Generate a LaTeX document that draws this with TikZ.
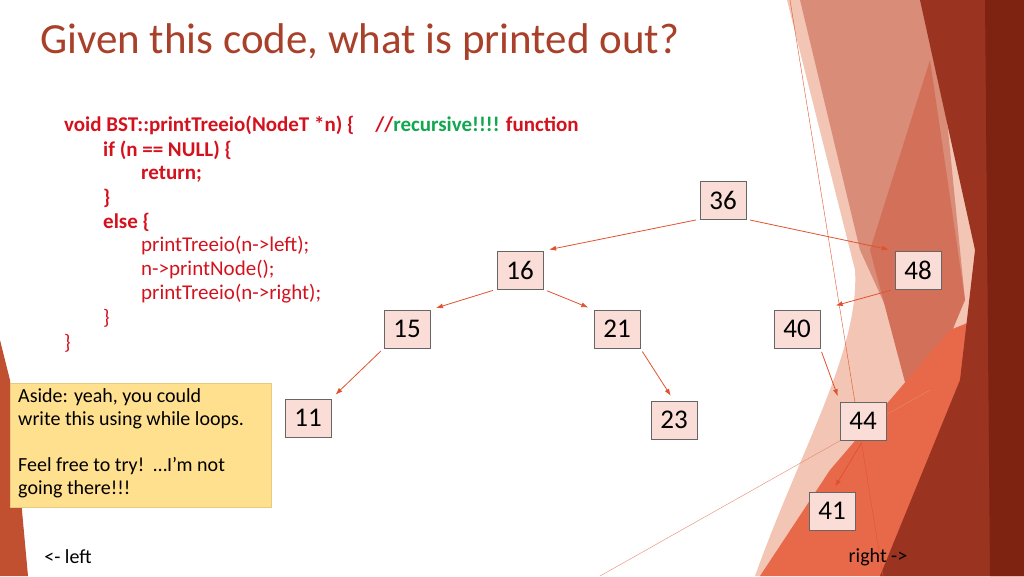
\documentclass[tikz,border=0pt]{standalone}
\usepackage{fontspec}
\setmainfont{Carlito}
\usetikzlibrary{arrows.meta}
\definecolor{titlered}{HTML}{A8402A}
\definecolor{codered}{HTML}{D4121E}
\definecolor{codegreen}{HTML}{12A650}
\definecolor{arrowred}{HTML}{E0522E}
\definecolor{boxpink}{HTML}{FADDD6}
\definecolor{asideyellow}{HTML}{FEE08E}
\definecolor{palepink}{HTML}{F3C5B5}
\definecolor{salmon}{HTML}{D98C78}
\definecolor{midred}{HTML}{D2705A}
\definecolor{orangered}{HTML}{E8694A}
\definecolor{darkred}{HTML}{9A3420}
\definecolor{deepred}{HTML}{7E2212}
\definecolor{wedgered}{HTML}{C0502F}
\tikzset{
  treenode/.style={draw=gray!80!black, fill=boxpink, minimum width=46pt, minimum height=38pt, inner sep=0pt, font=\fontsize{27}{27}\selectfont},
  treearrow/.style={-{Latex[length=7pt,width=5pt]}, draw=arrowred, thick, shorten <=4pt, shorten >=6pt},
  codeline/.style={anchor=west, inner sep=0pt, text=codered, font=\fontsize{21}{21}\selectfont\bfseries},
  plainline/.style={anchor=west, inner sep=0pt, text=codered, font=\fontsize{21}{21}\selectfont}
}
\begin{document}
\begin{tikzpicture}[x=1pt,y=-1pt]
	\useasboundingbox (0,0) rectangle (1024,576);
	%background shapes
		\fill[palepink] (787,0) -- (1024,0) -- (1024,576) -- (755,576) .. controls (800,450) and (860,350) .. (855,270) -- cycle;
		\fill[salmon] (800,0) -- (935,0) -- (965,300) -- (910,360) -- (860,250) -- cycle;
		\fill[midred] (870,250) -- (930,60) -- (965,300) -- (915,420) -- cycle;
		\fill[orangered] (760,576) -- (830,470) -- (950,330) -- (1024,300) -- (1024,576) -- cycle;
		\fill[darkred] (920,0) -- (1024,0) -- (1024,576) -- (880,576) -- (960,380) -- (975,250) -- cycle;
		\fill[deepred] (985,0) -- (1024,0) -- (1024,576) -- (990,576) -- cycle;
		\draw[arrowred, thin] (790,0) -- (883,576);
		\draw[arrowred!70, thin] (600,576) -- (930,390);
		\fill[wedgered] (0,340) -- (10,380) -- (28,576) -- (0,576) -- cycle;
	%title
		\node[anchor=west, inner sep=0pt, text=titlered, font=\fontsize{43}{43}\selectfont] (title) at (40,42) {Given this code, what is printed out?};
	%code
		\node[codeline] (c1) at (64,125) {void BST::printTreeio(NodeT *n) \{\quad //\textcolor{codegreen}{recursive!!!!} function};
		\node[codeline] (c2) at (103,150) {if (n == NULL) \{};
		\node[codeline] (c3) at (141,174) {return;};
		\node[codeline] (c4) at (103,198) {\}};
		\node[codeline] (c5) at (103,222) {else \{};
		\node[plainline] (c6) at (141,246) {printTreeio(n->left);};
		\node[plainline] (c7) at (141,270) {n->printNode();};
		\node[plainline] (c8) at (141,294) {printTreeio(n->right);};
		\node[plainline] (c9) at (103,318) {\}};
		\node[plainline] (c10) at (64,343) {\}};
	%aside
		\node[fill=asideyellow, draw=asideyellow!90!black, anchor=north west, minimum width=261pt, minimum height=124pt, inner sep=0pt] (aside) at (10,383) {};
		\node[anchor=north west, align=left, inner sep=0pt, font=\fontsize{20}{23.5}\selectfont] (asidetext) at (18,388) {Aside: yeah, you could\\write this using while loops.\\[22pt]Feel free to try!\ \ \ldots I'm not\\going there!!!};
	%tree
		\node[treenode] (n36) at (723,200) {36};
		\node[treenode] (n16) at (520,270) {16};
		\node[treenode] (n48) at (918,270) {48};
		\node[treenode] (n15) at (407,329) {15};
		\node[treenode] (n21) at (617,329) {21};
		\node[treenode] (n40) at (797,329) {40};
		\node[treenode] (n11) at (308,418) {11};
		\node[treenode] (n23) at (674,420) {23};
		\node[treenode] (n44) at (863,421) {44};
		\node[treenode] (n41) at (832,511) {41};
		\draw[treearrow] (n36.south west) -- (n16.north east);
		\draw[treearrow] (n36.south east) -- (n48.north west);
		\draw[treearrow] (n16.south west) -- (n15.north east);
		\draw[treearrow] (n16.south east) -- (n21.north west);
		\draw[treearrow] (n15.south west) -- (n11.north east);
		\draw[treearrow] (n21.south east) -- (n23.north);
		\draw[treearrow, shorten >=16pt] (n48.south west) -- (n40.north east);
		\draw[treearrow] (n40.south east) -- (n44.north west);
		\draw[treearrow] (n44.south) -- (n41.north);
	%footer
		\node[inner sep=0pt, font=\fontsize{20}{20}\selectfont] (left) at (68,557) {<- left};
		\node[inner sep=0pt, font=\fontsize{20}{20}\selectfont] (right) at (878,557) {right ->};
\end{tikzpicture}
\end{document}
